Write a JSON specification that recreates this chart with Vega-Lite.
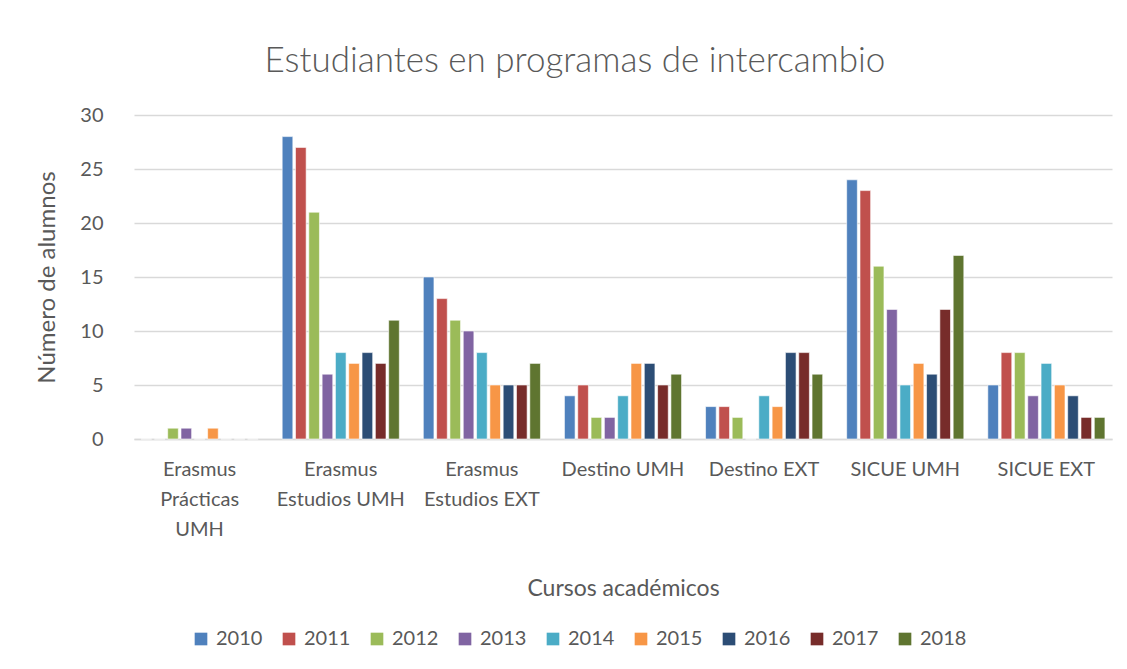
{
  "$schema": "https://vega.github.io/schema/vega-lite/v6.json",
  "width": 978,
  "height": 324,
  "autosize": "none",
  "padding": {"left": 134, "top": 115, "right": 15, "bottom": 230},
  "background": "white",
  "title": {"text": "Estudiantes en programas de intercambio", "font": "Lato", "fontSize": 35, "fontWeight": 300, "color": "#595959", "offset": 26, "anchor": "middle", "dx": -48},
  "data": {"values": [
    {"cat": "Erasmus Prácticas UMH", "year": "2010", "n": 0},
    {"cat": "Erasmus Prácticas UMH", "year": "2011", "n": 0},
    {"cat": "Erasmus Prácticas UMH", "year": "2012", "n": 1},
    {"cat": "Erasmus Prácticas UMH", "year": "2013", "n": 1},
    {"cat": "Erasmus Prácticas UMH", "year": "2014", "n": 0},
    {"cat": "Erasmus Prácticas UMH", "year": "2015", "n": 1},
    {"cat": "Erasmus Prácticas UMH", "year": "2016", "n": 0},
    {"cat": "Erasmus Prácticas UMH", "year": "2017", "n": 0},
    {"cat": "Erasmus Prácticas UMH", "year": "2018", "n": 0},
    {"cat": "Erasmus Estudios UMH", "year": "2010", "n": 28},
    {"cat": "Erasmus Estudios UMH", "year": "2011", "n": 27},
    {"cat": "Erasmus Estudios UMH", "year": "2012", "n": 21},
    {"cat": "Erasmus Estudios UMH", "year": "2013", "n": 6},
    {"cat": "Erasmus Estudios UMH", "year": "2014", "n": 8},
    {"cat": "Erasmus Estudios UMH", "year": "2015", "n": 7},
    {"cat": "Erasmus Estudios UMH", "year": "2016", "n": 8},
    {"cat": "Erasmus Estudios UMH", "year": "2017", "n": 7},
    {"cat": "Erasmus Estudios UMH", "year": "2018", "n": 11},
    {"cat": "Erasmus Estudios EXT", "year": "2010", "n": 15},
    {"cat": "Erasmus Estudios EXT", "year": "2011", "n": 13},
    {"cat": "Erasmus Estudios EXT", "year": "2012", "n": 11},
    {"cat": "Erasmus Estudios EXT", "year": "2013", "n": 10},
    {"cat": "Erasmus Estudios EXT", "year": "2014", "n": 8},
    {"cat": "Erasmus Estudios EXT", "year": "2015", "n": 5},
    {"cat": "Erasmus Estudios EXT", "year": "2016", "n": 5},
    {"cat": "Erasmus Estudios EXT", "year": "2017", "n": 5},
    {"cat": "Erasmus Estudios EXT", "year": "2018", "n": 7},
    {"cat": "Destino UMH", "year": "2010", "n": 4},
    {"cat": "Destino UMH", "year": "2011", "n": 5},
    {"cat": "Destino UMH", "year": "2012", "n": 2},
    {"cat": "Destino UMH", "year": "2013", "n": 2},
    {"cat": "Destino UMH", "year": "2014", "n": 4},
    {"cat": "Destino UMH", "year": "2015", "n": 7},
    {"cat": "Destino UMH", "year": "2016", "n": 7},
    {"cat": "Destino UMH", "year": "2017", "n": 5},
    {"cat": "Destino UMH", "year": "2018", "n": 6},
    {"cat": "Destino EXT", "year": "2010", "n": 3},
    {"cat": "Destino EXT", "year": "2011", "n": 3},
    {"cat": "Destino EXT", "year": "2012", "n": 2},
    {"cat": "Destino EXT", "year": "2013", "n": 0},
    {"cat": "Destino EXT", "year": "2014", "n": 4},
    {"cat": "Destino EXT", "year": "2015", "n": 3},
    {"cat": "Destino EXT", "year": "2016", "n": 8},
    {"cat": "Destino EXT", "year": "2017", "n": 8},
    {"cat": "Destino EXT", "year": "2018", "n": 6},
    {"cat": "SICUE UMH", "year": "2010", "n": 24},
    {"cat": "SICUE UMH", "year": "2011", "n": 23},
    {"cat": "SICUE UMH", "year": "2012", "n": 16},
    {"cat": "SICUE UMH", "year": "2013", "n": 12},
    {"cat": "SICUE UMH", "year": "2014", "n": 5},
    {"cat": "SICUE UMH", "year": "2015", "n": 7},
    {"cat": "SICUE UMH", "year": "2016", "n": 6},
    {"cat": "SICUE UMH", "year": "2017", "n": 12},
    {"cat": "SICUE UMH", "year": "2018", "n": 17},
    {"cat": "SICUE EXT", "year": "2010", "n": 5},
    {"cat": "SICUE EXT", "year": "2011", "n": 8},
    {"cat": "SICUE EXT", "year": "2012", "n": 8},
    {"cat": "SICUE EXT", "year": "2013", "n": 4},
    {"cat": "SICUE EXT", "year": "2014", "n": 7},
    {"cat": "SICUE EXT", "year": "2015", "n": 5},
    {"cat": "SICUE EXT", "year": "2016", "n": 4},
    {"cat": "SICUE EXT", "year": "2017", "n": 2},
    {"cat": "SICUE EXT", "year": "2018", "n": 2}
  ]},
  "mark": {"type": "bar", "stroke": "white", "strokeWidth": 0.6},
  "encoding": {
    "x": {
      "field": "cat", "type": "nominal", "sort": null,
      "scale": {"paddingInner": 0.17, "paddingOuter": 0.05},
      "axis": {
        "title": "Cursos académicos", "titleFont": "Lato", "titleFontSize": 23, "titleFontWeight": "normal", "titleColor": "#595959", "titlePadding": 38,
        "labelAngle": 0, "labelFont": "Lato", "labelFontSize": 20, "labelColor": "#595959", "labelLineHeight": 30, "labelPadding": 20,
        "ticks": false, "domainColor": "#D9D9D9", "domainWidth": 1.5,
        "labelExpr": "datum.value == 'Erasmus Prácticas UMH' ? ['Erasmus', 'Prácticas', 'UMH'] : datum.value == 'Erasmus Estudios UMH' ? ['Erasmus', 'Estudios UMH'] : datum.value == 'Erasmus Estudios EXT' ? ['Erasmus', 'Estudios EXT'] : datum.value"
      }
    },
    "xOffset": {"field": "year", "type": "nominal", "scale": {"paddingInner": 0.2}},
    "y": {
      "field": "n", "type": "quantitative",
      "scale": {"domain": [0, 30]},
      "axis": {
        "title": "Número de alumnos", "titleFont": "Lato", "titleFontSize": 24, "titleFontWeight": "normal", "titleColor": "#595959", "titlePadding": 20,
        "values": [0, 5, 10, 15, 20, 25, 30], "labelFont": "Lato", "labelFontSize": 20, "labelColor": "#595959", "labelPadding": 31,
        "ticks": false, "domain": false, "gridColor": "#D9D9D9", "gridWidth": 1.5
      }
    },
    "color": {
      "field": "year", "type": "nominal",
      "scale": {"domain": ["2010","2011","2012","2013","2014","2015","2016","2017","2018"],
                "range": ["#4F81BD","#C0504D","#9BBB59","#8064A2","#4BACC6","#F79646","#2C4D75","#772C2A","#5F7530"]},
      "legend": {
        "title": null, "orient": "none", "legendX": 57, "legendY": 514, "direction": "horizontal", "columns": 9,
        "symbolType": "square", "symbolSize": 160, "symbolStrokeWidth": 0, "symbolOpacity": 1,
        "labelFont": "Lato", "labelFontSize": 20, "labelColor": "#595959", "labelOffset": 5, "columnPadding": 16
      }
    }
  },
  "config": {"view": {"stroke": null}}
}
